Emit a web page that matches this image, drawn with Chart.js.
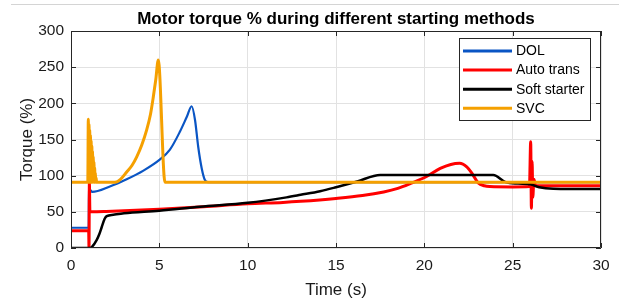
<!DOCTYPE html>
<html>
<head>
<meta charset="utf-8">
<script src="https://cdn.jsdelivr.net/npm/chart.js@4/dist/chart.umd.min.js"></script>
<style>
  html, body { margin: 0; padding: 0; background: #fff; }
  #wrap { width: 619px; height: 298px; }
</style>
</head>
<body>
<div id="wrap"><canvas id="c" width="619" height="298"></canvas></div>
<script>
// ---- Data ----
const chartTitle = 'Motor torque % during different starting methods';
const xTitle = 'Time (s)';
const yTitle = 'Torque (%)';
const seriesLabels = ['DOL', 'Auto trans', 'Soft starter', 'SVC'];

const dolTime   = [0, 1.0, 1.02, 1.05, 1.08, 1.2, 2.2, 3.15, 4.1, 5.04, 5.6, 6.17, 6.55, 6.83, 7.02, 7.2, 7.4, 7.58, 7.77, 30];
const dolTorque = [28, 28, 90, 73, 80, 77.5, 85, 95, 107, 122.5, 136, 161, 181, 196, 177, 140, 110, 94, 91, 91];

const autoTime   = [0, 1.0, 1.02, 1.04, 1.07, 1.2, 2, 5, 7.5, 10, 12, 13, 15, 16.5, 17.7, 18.5, 19.2, 20.1, 20.9, 21.5, 22, 22.4, 22.7, 23.05, 23.4, 23.7, 25, 25.95, 26.02, 26.06, 26.1, 26.14, 26.2, 26.3, 30];
const autoTorque = [24, 24, 0, 92, 50, 50, 50.5, 53.5, 57, 61, 63, 64.5, 68.5, 72.5, 77.5, 82.5, 89, 98.5, 110, 115.5, 117, 112, 103, 90, 86, 85, 84.5, 85, 147, 55, 120, 70, 95, 86, 86];

const softTime   = [0, 1.08, 1.2, 1.45, 1.6, 1.74, 1.9, 2.02, 2.4, 3, 5, 7.3, 10, 12.2, 13, 14.1, 15, 16.2, 17.5, 23.9, 24.6, 25.3, 26, 26.5, 27.3, 30];
const softTorque = [0, 0, 2, 11, 19, 29, 40, 44, 46, 48, 51.5, 57, 62.5, 70, 73.5, 78.5, 84, 92, 101, 101, 91, 89, 88, 84, 82, 81.5];

const svcTime   = [0, 0.95, 0.98, 1.0, 1.02, 1.04, 1.06, 1.08, 1.1, 1.12, 1.14, 1.16, 1.18, 1.2, 1.22, 1.24, 1.26, 1.28, 1.3, 1.32, 1.34, 1.36, 1.38, 1.4, 1.42, 1.45, 2.49, 2.8, 3.15, 3.45, 3.72, 4.0, 4.28, 4.5, 4.66, 4.8, 4.94, 5.32, 30];
const svcTorque = [91, 91, 178, 91, 171, 91, 163, 91, 156, 91, 148, 91, 141, 91, 134, 91, 126, 91, 119, 91, 111, 91, 104, 91, 97, 91, 91, 95, 105, 114, 126, 142, 163, 185, 209, 233, 260, 91, 91];

const xTicks = [0, 5, 10, 15, 20, 25, 30];
const yTicks = [0, 50, 100, 150, 200, 250, 300];

const seriesColors = ['#0a55c4', '#ff0000', '#000000', '#f5a000'];
const seriesWidths = [2.2, 3, 2.5, 3];

// ---- Build datasets ----
function zip(t, v) { return t.map((x, i) => ({ x: x, y: v[i] })); }
const allSeries = [zip(dolTime, dolTorque), zip(autoTime, autoTorque), zip(softTime, softTorque), zip(svcTime, svcTorque)];

const datasets = allSeries.map((d, i) => ({
  label: seriesLabels[i],
  data: d,
  showLine: true,
  borderColor: seriesColors[i],
  backgroundColor: seriesColors[i],
  borderWidth: seriesWidths[i],
  pointRadius: 0,
  pointHoverRadius: 0,
  cubicInterpolationMode: 'monotone',
  fill: false,
  order: 4 - i
}));

const FONT = '"Liberation Sans", Arial, Helvetica, sans-serif';

const framePlugin = {
  id: 'frame',
  beforeDraw(chart) {
    const ctx = chart.ctx;
    const a = chart.chartArea;
    ctx.save();
    ctx.strokeStyle = '#d4d4d4';
    ctx.lineWidth = 1;
    ctx.beginPath();
    ctx.moveTo(11, 4.5); ctx.lineTo(619, 4.5);
    ctx.stroke();
    // title centred over the plot area
    ctx.fillStyle = '#000';
    ctx.font = 'bold 17px ' + FONT;
    ctx.textAlign = 'center';
    ctx.textBaseline = 'alphabetic';
    ctx.fillText(chartTitle, (a.left + a.right) / 2, 23.5);
    ctx.restore();
  },
  afterDraw(chart) {
    const ctx = chart.ctx;
    const a = chart.chartArea;
    const xs = chart.scales.x, ys = chart.scales.y;
    ctx.save();
    // axes box
    ctx.strokeStyle = '#262626';
    ctx.lineWidth = 1;
    ctx.beginPath();
    ctx.rect(Math.round(a.left) + 0.5, Math.round(a.top) + 0.5, Math.round(a.right - a.left) - 1, Math.round(a.bottom - a.top) - 1);
    ctx.stroke();
    // inside tick marks
    const tl = 5;
    ctx.beginPath();
    yTicks.forEach(v => {
      const y = Math.round(ys.getPixelForValue(v)) + 0.5;
      ctx.moveTo(a.left, y); ctx.lineTo(a.left + tl, y);
      ctx.moveTo(a.right, y); ctx.lineTo(a.right - tl, y);
    });
    xTicks.forEach(v => {
      const x = Math.round(xs.getPixelForValue(v)) + 0.5;
      ctx.moveTo(x, a.bottom); ctx.lineTo(x, a.bottom - tl);
      ctx.moveTo(x, a.top); ctx.lineTo(x, a.top + tl);
    });
    ctx.stroke();
    // legend box
    const lx = 459, ly = 38, lw = 132, lh = 83;
    ctx.fillStyle = '#ffffff';
    ctx.fillRect(lx, ly, lw, lh);
    ctx.strokeStyle = '#262626';
    ctx.strokeRect(lx + 0.5, ly + 0.5, lw - 1, lh - 1);
    ctx.font = '14px ' + FONT;
    ctx.textBaseline = 'middle';
    ctx.textAlign = 'left';
    chart.data.datasets.forEach((ds, i) => {
      const cy = 51 + i * 19.1;
      ctx.strokeStyle = ds.borderColor;
      ctx.lineWidth = 3;
      ctx.beginPath();
      ctx.moveTo(463, cy); ctx.lineTo(512, cy);
      ctx.stroke();
      ctx.fillStyle = '#000';
      ctx.fillText(ds.label, 516, cy + 0.5);
    });
    ctx.restore();
  }
};

new Chart(document.getElementById('c'), {
  type: 'scatter',
  data: { datasets: datasets },
  plugins: [framePlugin],
  options: {
    responsive: false,
    animation: false,
    events: [],
    layout: { padding: { top: 31, right: 18, left: 0, bottom: 0 } },
    plugins: {
      legend: { display: false },
      tooltip: { enabled: false },
      title: { display: false }
    },
    scales: {
      x: {
        type: 'linear',
        min: 0, max: 30,
        afterBuildTicks: s => { s.ticks = xTicks.map(v => ({ value: v })); },
        afterFit: s => { s.height = 50; },
        ticks: { color: '#1a1a1a', font: { family: FONT, size: 15.5 }, padding: 8.7, maxRotation: 0 },
        grid: { color: '#e2e2e2', lineWidth: 1, drawTicks: false },
        border: { display: false },
        title: { display: true, text: xTitle, color: '#1a1a1a', font: { family: FONT, size: 17, lineHeight: 0.9 }, padding: { top: 0, bottom: 0 } }
      },
      y: {
        type: 'linear',
        min: 0, max: 300,
        afterBuildTicks: s => { s.ticks = yTicks.map(v => ({ value: v })); },
        afterFit: s => { s.width = 71; },
        ticks: { color: '#1a1a1a', font: { family: FONT, size: 15.5 }, padding: 7 },
        grid: { color: '#e2e2e2', lineWidth: 1, drawTicks: false },
        border: { display: false },
        title: { display: true, text: yTitle, color: '#1a1a1a', font: { family: FONT, size: 17, lineHeight: 0.9 }, padding: { top: 19.3, bottom: 0 } }
      }
    }
  }
});
</script>
</body>
</html>
